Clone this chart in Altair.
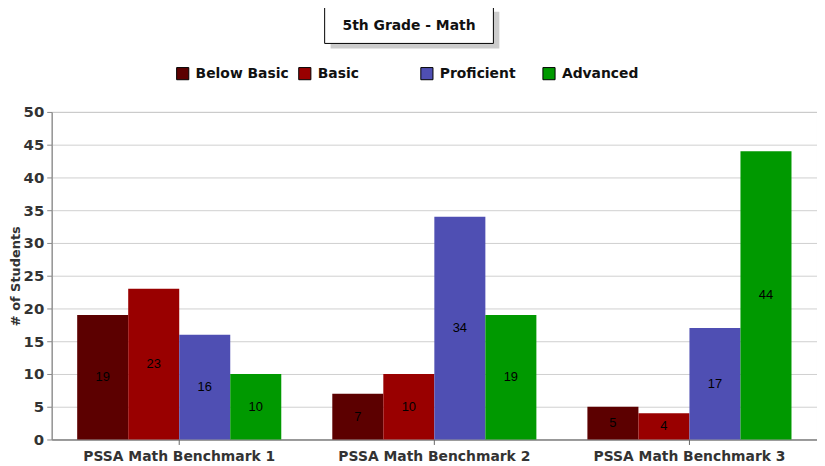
import altair as alt
import pandas as pd

groups = ["PSSA Math Benchmark 1", "PSSA Math Benchmark 2", "PSSA Math Benchmark 3"]
levels = ["Below Basic", "Basic", "Proficient", "Advanced"]
colors = ["#5c0000", "#990000", "#4f4fb3", "#009900"]
below_basic = [19, 7, 5]
basic = [23, 10, 4]
proficient = [16, 34, 17]
advanced = [10, 19, 44]
y_ticks = [0, 5, 10, 15, 20, 25, 30, 35, 40, 45, 50]

rows = []
for i, g in enumerate(groups):
    for lvl, vals in zip(levels, [below_basic, basic, proficient, advanced]):
        rows.append({"group": g, "level": lvl, "value": vals[i], "mid": vals[i] / 2})
df = pd.DataFrame(rows)

FONT = "DejaVu Sans"

x = alt.X("group:N", sort=groups, title=None,
          scale=alt.Scale(paddingInner=0.2, paddingOuter=0.1),
          axis=alt.Axis(labelAngle=0, labelFont=FONT, labelFontWeight="bold",
                        labelFontSize=14, labelColor="#333333", labelPadding=5,
                        labelLimit=300,
                        domainColor="#666666", tickColor="#666666", tickSize=5))
xo = alt.XOffset("level:N", sort=levels)

y_axis = alt.Axis(values=y_ticks, labelFont=FONT,
                  labelFontWeight="bold", labelFontSize=15,
                  labelColor="#333333", titleFont=FONT, titleFontSize=13,
                  titleFontWeight="bold", titleColor="#333333",
                  titlePadding=1, gridColor="#d0d0d0", labelPadding=3,
                  domainColor="#888888", tickColor="#888888", tickSize=5)
y_scale = alt.Scale(domain=[0, 50])

bars = alt.Chart(df).mark_bar().encode(
    x=x, xOffset=xo,
    y=alt.Y("value:Q", title="# of Students", scale=y_scale, axis=y_axis),
    color=alt.Color("level:N", sort=levels,
                    scale=alt.Scale(domain=levels, range=colors),
                    legend=alt.Legend(title=None, orient="none", legendX=125, legendY=-46,
                                      direction="horizontal", columns=4, gridAlign="all",
                                      symbolType="square", symbolSize=150,
                                      symbolStrokeColor="#000000", symbolStrokeWidth=1,
                                      symbolOpacity=1, columnPadding=7, labelOffset=6,
                                      labelFont=FONT, labelFontWeight="bold",
                                      labelFontSize=14, labelColor="#111111",
                                      labelLimit=200)),
)

labels = alt.Chart(df).mark_text(font="Liberation Sans", fontSize=13, color="#000000").encode(
    x=x, xOffset=xo,
    y=alt.Y("mid:Q", title="# of Students", scale=y_scale, axis=y_axis),
    text=alt.Text("value:Q"),
)

title_df = pd.DataFrame({"t": ["5th Grade - Math"]})
shadow = alt.Chart(title_df).mark_rect(color="#cccccc", clip=False).encode(
    x=alt.value(281), x2=alt.value(451), y=alt.value(-101), y2=alt.value(-64))
box = alt.Chart(title_df).mark_rect(fill="#ffffff", stroke="#000000", strokeWidth=1, clip=False).encode(
    x=alt.value(275), x2=alt.value(445), y=alt.value(-106), y2=alt.value(-69))
ttext = alt.Chart(title_df).mark_text(font=FONT, fontSize=14, fontWeight="bold",
                                      color="#111111", clip=False).encode(
    x=alt.value(360), y=alt.value(-87), text="t:N")

chart = alt.layer(bars, labels, shadow, box, ttext).properties(
    width=771, height=330,
    padding={"left": 44, "top": 103, "right": 0, "bottom": 25},
    autosize=alt.AutoSizeParams(type="none"),
).configure_view(stroke="#999999")

chart.save("out.html", embed_options={"renderer": "svg", "actions": False})
